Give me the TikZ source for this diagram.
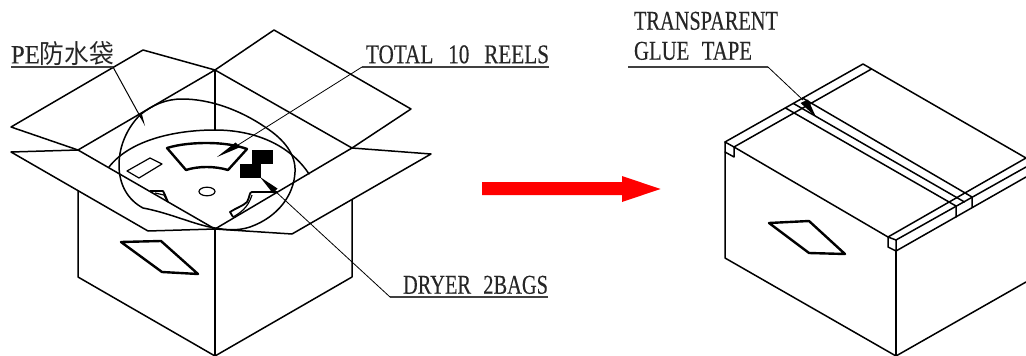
\documentclass[tikz,border=0pt]{standalone}
\usepackage{fontspec}
\usepackage{graphicx}
\setmainfont[FakeBold=0.25]{Liberation Serif}
\newfontfamily\cjkfont{Noto Sans CJK SC}
\newcommand{\fitlabel}[3]{\resizebox{#1pt}{#2pt}{#3}}
\tikzset{
  edge/.style={line width=1.5pt,line join=round,line cap=round},
  thin edge/.style={line width=1.2pt,line join=round},
  leader/.style={line width=0.8pt},
  rule/.style={line width=1.3pt,draw=black!75},
  fat/.style={line width=2.4pt,line join=round},
  solid black/.style={fill=black,draw=none},
  txt/.style={anchor=south west,inner sep=0pt,outer sep=0pt,text=black!85}
}
\begin{document}
\begin{tikzpicture}[x=1pt,y=-1pt]
\useasboundingbox (0,0) rectangle (1026,356);
% --- left box
\draw[edge] (78,150)--(11,127)--(143,50)--(215,70)--(78,150);
\draw[edge] (215,70)--(274,30)--(411,109)--(352,148)--(215,70);
\draw[edge] (352,148)--(431,154)--(292,234)--(215,229)--(148,231)--(11,152)--(78,150)--(215,229)--(352,148);
\draw[edge] (215,70)--(215,130);
\draw[edge] (78,190.5)--(78,277)--(215,356)--(352,277)--(352,200);
\draw[edge] (215,229)--(215,356);
\draw[fat] (121,242)--(161,241)--(198,274)--(162,272)--cycle;
% reel and bag
\draw[edge] (109,167) .. controls (130,140) and (175,130) .. (215,130) .. controls (255,130) and (290,145) .. (309,174);
\draw[edge] (140,115) .. controls (152,105) and (166,99) .. (182,99) .. controls (210,99) and (240,110) .. (265,127) .. controls (285,140) and (296,155) .. (295,172) .. controls (294,195) and (278,217) .. (250,227) .. controls (238,231) and (226,230) .. (215,228) .. controls (195,225) and (170,213) .. (143,208) .. controls (128,200) and (119,185) .. (119,165) .. controls (119,145) and (128,127) .. (140,115);
\draw[fat] (167,148) .. controls (180,144) and (195,143) .. (207,143) .. controls (222,143) and (236,145) .. (247,149) -- (228,170) .. controls (215,166) and (198,166) .. (186,170) -- cycle;
\draw[thin edge] (127,171)--(150,158)--(162,164)--(139,178)--cycle;
\draw[thin edge] (207,191.5) ellipse [x radius=8,y radius=4.3];
\draw[fat,line width=1.8pt] (150,191)--(163,191)--(165,195)--(168,202);
\draw[thin edge] (155,193)--(164,195)--(167,201);
\draw[fat,line width=1.8pt] (277,192)--(252,192) .. controls (249,192) and (250,197) .. (247,202) .. controls (243,206) and (236,208) .. (230,212)--(233,217);
\draw[thin edge] (233,217) .. controls (240,213) and (248,208) .. (252,195);
\fill[solid black] (252,150) rectangle (273,164);
\fill[solid black] (240,163.5) rectangle (261,178);
% --- left labels
\node[txt] (pe) at (11,65.5) {\fitlabel{103}{22}{PE{\cjkfont 防水袋}}};
\draw[rule] (11,67)--(113,67) coordinate (peEnd);
\coordinate (peTip) at (145,126);
\draw[leader,line width=1pt] (peEnd)--(141,118);
\fill[solid black] (139.5,116)--(142,114.5)--(peTip)--cycle;

\node[txt] (total) at (366,63.5) {\fitlabel{183}{18}{TOTAL\hspace{0.7em}10\hspace{0.7em}REELS}};
\draw[rule] (549,67)--(362,67) coordinate (totalEnd);
\coordinate (totalTip) at (217,157);
\draw[leader] (totalEnd)--(238,145);
\fill[solid black] (totalTip)--(235.5,142.5)--(240.5,147)--cycle;

\node[txt] (dryer) at (403,294) {\fitlabel{145}{18}{DRYER\hspace{0.6em}2BAGS}};
\draw[rule] (548,297)--(390,297) coordinate (dryerEnd);
\coordinate (dryerTip) at (260,177);
\draw[leader] (dryerEnd)--(275,191);
\fill[solid black] (dryerTip)--(277.5,188.5)--(273,193.5)--cycle;

% --- arrow
\fill[red] (482,182)--(622,182)--(622,176)--(660.5,189)--(622,202)--(622,195)--(482,195)--cycle;

% --- right box
\draw[edge] (725,142)--(863,64)--(1026,158);
\draw[edge] (734,147)--(871.5,69);
\draw[edge] (725,142)--(734,147)--(888,237);
\draw[edge] (725,142)--(725,258)--(896,356)--(1026,282);
\draw[edge] (725,152)--(734,157)--(734,147);
\draw[edge] (888,237)--(888,247)--(896,251)--(896,240)--cycle;
\draw[edge] (896,251)--(896,356);
\draw[edge] (888,237)--(1026,158);
\draw[edge] (896,240)--(1026,167);
\draw[edge] (896,251)--(1026,177);
\draw[edge] (802.5,98)--(972,197)--(972,207);
\draw[edge] (793.5,103.5)--(964.5,202);
\draw[edge] (785.5,108)--(956,206)--(956,217);
\draw[fat] (769,223)--(809,221)--(845,254)--(809,253)--cycle;

\node[txt] (trans) at (634,30) {\fitlabel{144}{18}{TRANSPARENT}};
\node[txt] (glue) at (634,60) {\fitlabel{118}{18}{GLUE\hspace{0.6em}TAPE}};
\draw[rule] (628,67)--(768,67) coordinate (glueEnd);
\coordinate (glueTip) at (816,117);
\draw[leader] (glueEnd)--(803,100);
\fill[solid black] (800.5,103)--(808,99.5)--(glueTip)--cycle;
\end{tikzpicture}
\end{document}
